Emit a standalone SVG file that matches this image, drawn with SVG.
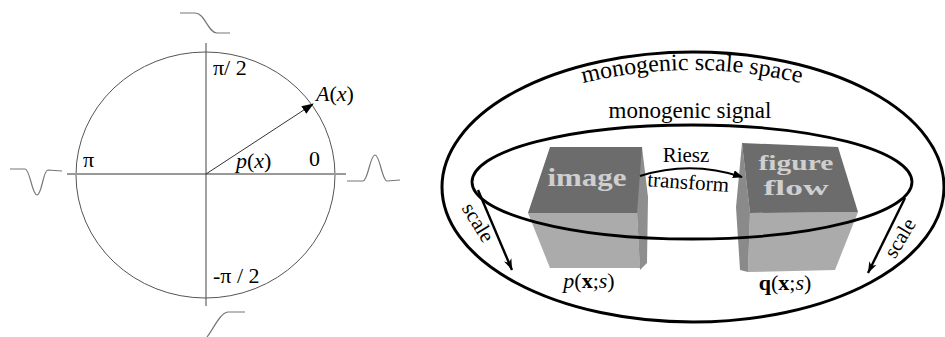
<svg xmlns="http://www.w3.org/2000/svg" width="945" height="337" viewBox="0 0 945 337">
<style>
.t{fill:#000}
.wave{fill:none;stroke:#777;stroke-width:1.2}
.bold{fill:none;stroke:#000;stroke-width:3}
.cubeText{fill:#cfcfcf;font-weight:bold}
</style>
<defs>
<marker id="ah" markerWidth="10" markerHeight="8" refX="9" refY="4" orient="auto" markerUnits="userSpaceOnUse">
<path d="M0,0 L10,4 L0,8 Z" fill="#000"/>
</marker>
<marker id="ah2" markerWidth="12" markerHeight="10" refX="11" refY="5" orient="auto" markerUnits="userSpaceOnUse">
<path d="M0,1 L11,5 L0,9 L3,5 Z" fill="#000"/>
</marker>
<marker id="ah3" markerWidth="12" markerHeight="10" refX="11" refY="5" orient="auto" markerUnits="userSpaceOnUse">
<path d="M0,0.5 L12,5 L0,9.5 Z" fill="#000"/>
</marker>
<path id="arcOuter" d="M572,86 Q692,54 812,86"/>
</defs>

<g font-family="'Liberation Serif', 'DejaVu Serif', serif">
<g id="phase-diagram">
<ellipse cx="205.5" cy="175" rx="129.5" ry="123" fill="none" stroke="#555" stroke-width="1"/>
<line x1="67" y1="174" x2="346" y2="174" stroke="#999" stroke-width="1.8"/>
<line x1="206" y1="43" x2="206" y2="306" stroke="#444" stroke-width="1"/>
<line x1="206" y1="174" x2="313" y2="104" stroke="#333" stroke-width="1" marker-end="url(#ah3)"/>
<path class="wave" d="M180,13 L195,13 C205,13 208,33 217,33 L230,33"/>
<path class="wave" d="M207,337 C214,328 220,313 228,312 L245,312"/>
<path class="wave" d="M10,169 L25,169 C30,169 32,195 37,195 C42,195 43,170 48,170 L62,171"/>
<path class="wave" d="M347,181 L363,181 C368,181 370,155 375,155 C380,155 382,181 387,181 L400,180"/>
<text class="t" x="213" y="75" font-size="22">π/ 2</text>
<text class="t" x="316" y="101" font-size="22" font-style="italic">A<tspan font-style="normal">(</tspan>x<tspan font-style="normal">)</tspan></text>
<text class="t" x="83" y="167" font-size="22">π</text>
<text class="t" x="236" y="168" font-size="22" font-style="italic">p<tspan font-style="normal">(</tspan>x<tspan font-style="normal">)</tspan></text>
<text class="t" x="309" y="166" font-size="22">0</text>
<text class="t" x="213" y="283" font-size="22">-π / 2</text>
</g>

<g id="image-cube">
<polygon points="528,213 637,213 640,268 550,268" fill="#ababab"/>
<polygon points="637,147 642,147 648,197 647,263 640,270 637,213" fill="#8e8e8e"/>
<polygon points="550,147 642,147 637,213 528,213" fill="#6c6c6c"/>
<text class="cubeText" x="587" y="186" font-size="25" text-anchor="middle" textLength="79" lengthAdjust="spacingAndGlyphs">image</text>
</g>

<g id="figure-flow-cube">
<polygon points="750,213 858,212 835,270 748,272" fill="#ababab"/>
<polygon points="742,143 750,213 748,272 740,270 736,207" fill="#8a8a8a"/>
<polygon points="742,143 838,147 858,212 750,213" fill="#6c6c6c"/>
<text class="cubeText" x="796" y="170" font-size="22" text-anchor="middle" textLength="75" lengthAdjust="spacingAndGlyphs">figure</text>
<text class="cubeText" x="796" y="195" font-size="22" text-anchor="middle" textLength="65" lengthAdjust="spacingAndGlyphs">flow</text>
</g>

<g id="scale-space">
<ellipse class="bold" cx="693" cy="187" rx="251" ry="135"/>
<text class="t" font-size="24"><textPath href="#arcOuter" startOffset="50%" text-anchor="middle">monogenic scale space</textPath></text>
</g>

<g id="monogenic-signal">
<ellipse cx="692" cy="182" rx="220" ry="57" fill="none" stroke="#000" stroke-width="2.8"/>
<text class="t" x="690" y="118" font-size="23" text-anchor="middle">monogenic signal</text>
</g>

<g id="connectors">
<path d="M640,176 Q691,160 742,177" fill="none" stroke="#000" stroke-width="2.2" marker-end="url(#ah)"/>
<line x1="478" y1="190" x2="512" y2="270" stroke="#000" stroke-width="2.4" marker-end="url(#ah2)"/>
<line x1="905" y1="198" x2="868" y2="273" stroke="#000" stroke-width="2.4" marker-end="url(#ah2)"/>
</g>

<g id="labels">
<text class="t" x="686" y="162" font-size="21" text-anchor="middle">Riesz</text>
<text class="t" x="688" y="189" font-size="21" text-anchor="middle" transform="rotate(4 688 185)">transform</text>
<text class="t" font-size="21" text-anchor="middle" transform="translate(476.5 223.5) rotate(58)" y="5">scale</text>
<text class="t" font-size="21" text-anchor="middle" transform="translate(901.5 239) rotate(-59)" y="5">scale</text>
<text class="t" x="589" y="288" font-size="22" text-anchor="middle"><tspan font-style="italic">p</tspan>(<tspan font-weight="bold">x</tspan>;<tspan font-style="italic">s</tspan>)</text>
<text class="t" x="785" y="290" font-size="22" text-anchor="middle"><tspan font-weight="bold">q</tspan>(<tspan font-weight="bold">x</tspan>;<tspan font-style="italic">s</tspan>)</text>
</g>
</g>
</svg>
